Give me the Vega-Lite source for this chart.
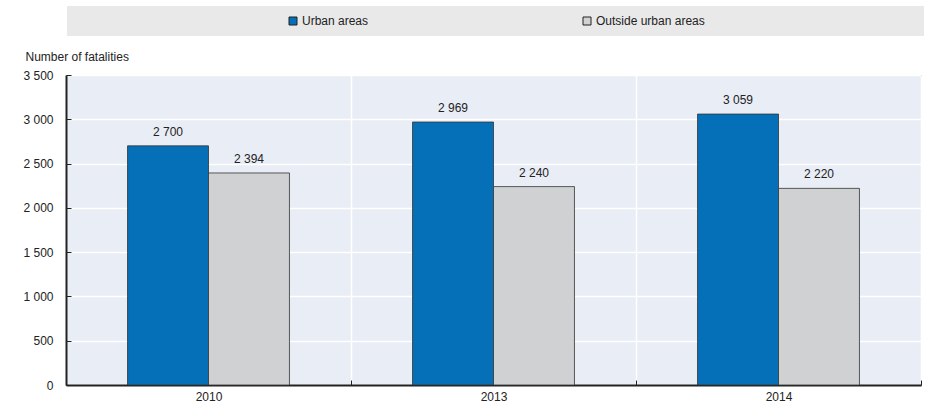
{
  "$schema": "https://vega.github.io/schema/vega-lite/v6.json",
  "width": 855,
  "height": 310,
  "autosize": {"type": "none"},
  "padding": {"left": 66, "top": 75, "right": 15, "bottom": 32},
  "config": {
    "locale": {"number": {"decimal": ".", "thousands": " ", "grouping": [3], "currency": ["", ""]}},
    "font": "Liberation Sans",
    "view": {"fill": "#e9edf6", "stroke": "#555", "strokeWidth": 1},
    "axis": {
      "labelFont": "Liberation Sans",
      "labelFontSize": 12,
      "labelColor": "#222",
      "domainColor": "#222",
      "domainWidth": 2,
      "tickColor": "#222",
      "tickSize": -5,
      "gridColor": "#ffffff",
      "gridWidth": 1.5,
      "gridOpacity": 1
    }
  },
  "data": {
    "values": [
      {"year": "2010", "area": "Urban areas", "fatalities": 2700},
      {"year": "2010", "area": "Outside urban areas", "fatalities": 2394},
      {"year": "2013", "area": "Urban areas", "fatalities": 2969},
      {"year": "2013", "area": "Outside urban areas", "fatalities": 2240},
      {"year": "2014", "area": "Urban areas", "fatalities": 3059},
      {"year": "2014", "area": "Outside urban areas", "fatalities": 2220}
    ]
  },
  "encoding": {
    "x": {
      "field": "year",
      "type": "nominal",
      "scale": {"paddingInner": 0, "paddingOuter": 0},
      "axis": {
        "title": null,
        "labelAngle": 0,
        "tickBand": "extent",
        "grid": true,
        "labelPadding": 11
      }
    },
    "xOffset": {
      "field": "area",
      "sort": ["Urban areas", "Outside urban areas"],
      "scale": {"paddingInner": 0, "paddingOuter": 0.76}
    },
    "y": {
      "field": "fatalities",
      "type": "quantitative",
      "scale": {"domain": [0, 3500]},
      "axis": {
        "values": [0, 500, 1000, 1500, 2000, 2500, 3000, 3500],
        "format": ",d",
        "title": "Number of fatalities",
        "titleAngle": 0,
        "titleAlign": "left",
        "titleBaseline": "alphabetic",
        "titleX": -41,
        "titleY": -15,
        "titleFont": "Liberation Sans",
        "titleFontSize": 12,
        "titleFontWeight": "normal",
        "titleColor": "#222",
        "labelPadding": 18
      }
    }
  },
  "layer": [
    {
      "mark": {"type": "bar", "stroke": "#333", "strokeWidth": 0.8},
      "encoding": {
        "color": {
          "field": "area",
          "type": "nominal",
          "sort": ["Urban areas", "Outside urban areas"],
          "scale": {"domain": ["Urban areas", "Outside urban areas"], "range": ["#0570b7", "#d0d1d3"]},
          "legend": {
            "orient": "none",
            "legendX": 1,
            "legendY": -69,
            "direction": "horizontal",
            "title": " ",
            "titleOrient": "right",
            "titlePadding": 210,
            "fillColor": "#e9e9e9",
            "padding": 9,
            "symbolType": "square",
            "symbolSize": 64,
            "symbolStrokeColor": "#222",
            "symbolStrokeWidth": 1,
            "symbolOffset": 211,
            "labelOffset": 3,
            "columnPadding": 1,
            "labelFontSize": 12,
            "labelColor": "#222"
          }
        }
      }
    },
    {
      "mark": {"type": "text", "baseline": "alphabetic", "dy": -10, "fontSize": 12, "color": "#222"},
      "encoding": {
        "text": {"field": "fatalities", "type": "quantitative", "format": ",d"}
      }
    }
  ]
}
